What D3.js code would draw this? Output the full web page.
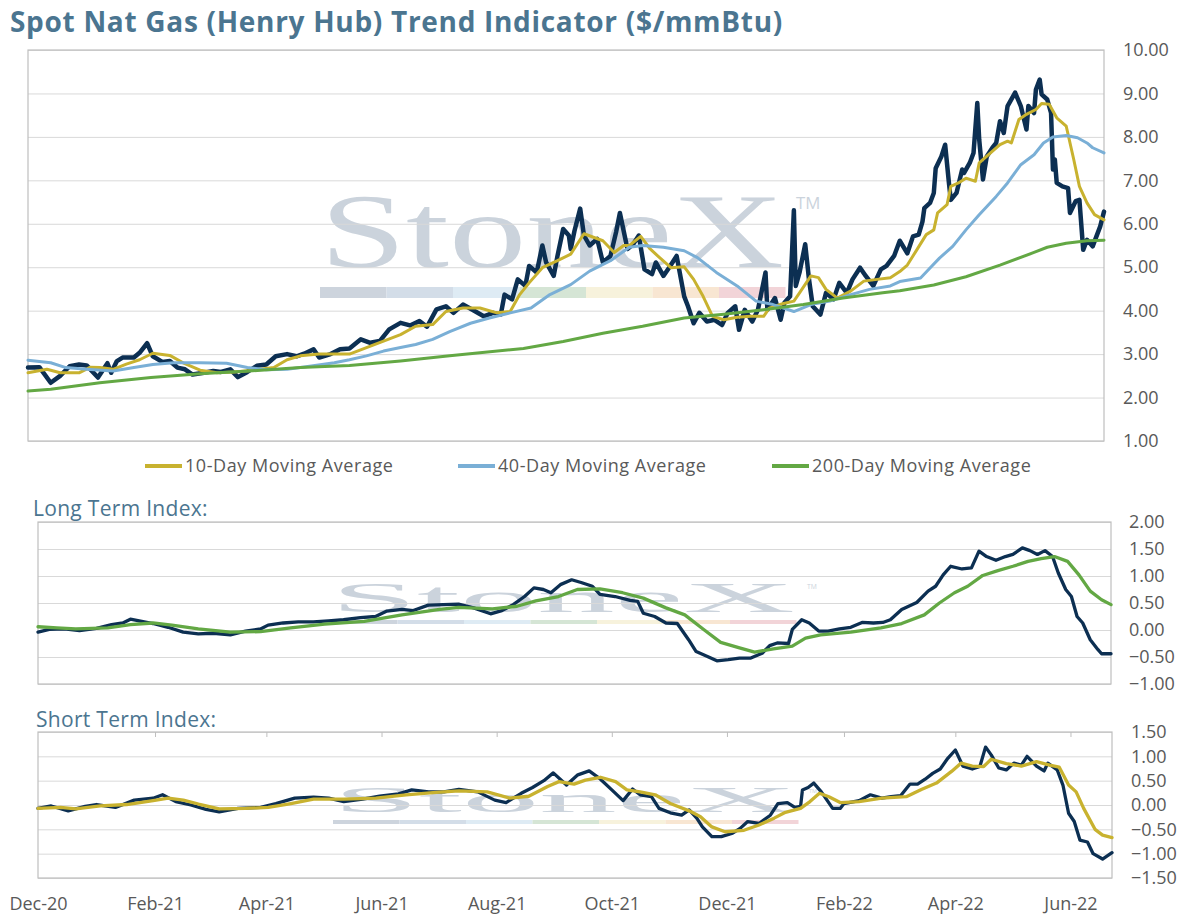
<!DOCTYPE html>
<html>
<head>
<meta charset="utf-8">
<script src="https://cdn.jsdelivr.net/npm/d3@7"></script>
<style>
  body { margin: 0; background: #fff; }
  text { font-family: "Open Sans", Lato, sans-serif; }
</style>
</head>
<body>
<svg id="chart" width="1178" height="920"></svg>
<script>
// days counted from 1 Dec 2020
const startDate = new Date(2020, 11, 1);
const endDay = 569;

const spot = [[0,2.69],[6,2.70],[12,2.34],[17,2.50],[22,2.72],[27,2.76],[31,2.74],[37,2.46],[42,2.79],[44,2.57],[47,2.84],[50,2.92],[56,2.92],[59,3.03],[63,3.25],[66,2.95],[71,2.82],[75,2.84],[79,2.69],[83,2.65],[87,2.53],[93,2.57],[98,2.61],[102,2.59],[107,2.65],[111,2.47],[116,2.59],[121,2.73],[126,2.76],[131,2.95],[137,3.00],[142,2.95],[146,3.01],[151,3.11],[154,2.92],[160,3.00],[165,3.11],[170,3.13],[176,3.34],[181,3.26],[186,3.30],[191,3.57],[197,3.72],[202,3.66],[207,3.76],[211,3.63],[216,4.03],[221,4.10],[225,3.95],[230,4.14],[235,4.02],[241,3.87],[246,3.95],[250,3.91],[252,4.37],[256,4.26],[259,4.72],[263,4.57],[265,5.03],[269,4.88],[272,5.50],[274,5.11],[278,4.80],[280,5.26],[283,5.88],[286,5.73],[287,5.42],[289,5.84],[292,6.35],[294,5.73],[297,5.50],[301,5.65],[304,5.11],[308,5.26],[311,5.81],[313,6.25],[317,5.42],[320,5.53],[323,5.73],[326,4.95],[330,4.84],[332,5.11],[336,4.80],[339,4.99],[343,5.26],[347,4.33],[349,4.10],[352,3.71],[355,3.95],[359,3.75],[363,3.79],[367,3.67],[370,3.95],[374,4.10],[376,3.56],[379,4.02],[383,3.75],[386,4.02],[390,4.88],[391,4.02],[395,4.29],[398,3.79],[400,4.18],[403,4.33],[405,6.31],[406,4.57],[408,4.88],[411,5.53],[413,4.72],[415,4.10],[419,3.91],[422,4.41],[426,4.26],[429,4.64],[433,4.41],[436,4.72],[440,4.99],[443,4.80],[447,4.57],[451,4.95],[454,5.03],[458,5.26],[461,5.61],[465,5.32],[468,5.71],[471,5.75],[473,6.05],[474,6.36],[477,6.48],[479,6.71],[480,7.28],[483,7.55],[485,7.82],[487,6.94],[488,6.55],[491,6.71],[494,7.25],[495,7.17],[498,7.40],[500,7.63],[502,8.78],[503,7.94],[505,7.02],[507,7.55],[510,7.75],[512,7.86],[514,8.36],[516,8.09],[518,8.71],[522,9.02],[525,8.71],[528,8.17],[529,8.71],[532,8.55],[533,9.09],[535,9.32],[536,8.98],[539,8.86],[541,8.55],[542,7.25],[543,7.48],[544,6.94],[547,6.86],[550,6.82],[551,6.25],[554,6.52],[556,6.55],[558,5.40],[560,5.63],[563,5.48],[567,5.94],[569,6.28]];

const ma10 = [[0,2.57],[10,2.65],[17,2.57],[27,2.57],[33,2.70],[38,2.69],[45,2.65],[52,2.77],[59,2.87],[66,3.02],[75,2.97],[82,2.80],[91,2.63],[100,2.57],[109,2.59],[119,2.63],[130,2.69],[137,2.87],[144,2.96],[154,3.00],[170,3.00],[179,3.15],[188,3.30],[197,3.45],[205,3.64],[214,3.68],[221,3.98],[230,4.06],[239,4.06],[248,3.95],[255,3.98],[260,4.37],[265,4.64],[272,4.99],[280,5.15],[287,5.30],[294,5.77],[299,5.69],[304,5.61],[310,5.34],[315,5.50],[318,5.50],[324,5.71],[329,5.42],[334,5.22],[340,4.99],[347,5.01],[352,4.72],[357,4.33],[362,3.87],[368,3.79],[375,3.85],[382,3.87],[389,3.87],[392,4.06],[399,4.16],[405,4.22],[408,4.41],[414,4.80],[418,4.76],[422,4.49],[428,4.29],[435,4.45],[442,4.68],[449,4.72],[456,4.76],[461,4.90],[465,5.05],[470,5.40],[475,5.75],[479,5.86],[481,6.25],[486,6.44],[488,6.86],[492,6.94],[496,7.05],[501,6.98],[503,7.40],[509,7.63],[514,7.82],[518,7.90],[520,7.86],[524,8.40],[528,8.52],[533,8.63],[536,8.77],[540,8.75],[544,8.44],[549,8.25],[553,7.48],[556,6.86],[560,6.48],[564,6.21],[569,6.09]];

const ma40 = [[0,2.86],[12,2.80],[20,2.69],[31,2.65],[45,2.61],[56,2.69],[66,2.76],[77,2.80],[91,2.80],[105,2.79],[116,2.69],[126,2.64],[137,2.65],[147,2.71],[162,2.80],[170,2.87],[179,2.96],[188,3.07],[197,3.15],[205,3.22],[214,3.34],[223,3.52],[234,3.71],[244,3.83],[255,3.95],[266,4.06],[276,4.37],[287,4.60],[297,4.91],[308,5.15],[318,5.46],[325,5.50],[336,5.46],[347,5.38],[354,5.22],[364,4.88],[375,4.57],[385,4.22],[394,4.14],[405,3.98],[414,4.14],[424,4.22],[435,4.37],[445,4.49],[456,4.57],[461,4.67],[472,4.75],[477,4.98],[482,5.21],[489,5.48],[496,5.86],[503,6.21],[512,6.63],[518,6.94],[525,7.36],[532,7.59],[537,7.86],[542,8.00],[549,8.03],[555,7.98],[560,7.86],[563,7.75],[569,7.63]];

const ma200 = [[0,2.15],[12,2.19],[38,2.34],[65,2.46],[91,2.55],[117,2.61],[144,2.69],[170,2.74],[197,2.84],[223,2.96],[262,3.13],[283,3.29],[304,3.48],[325,3.64],[347,3.83],[368,3.92],[389,4.02],[410,4.14],[431,4.29],[452,4.41],[461,4.46],[479,4.59],[496,4.78],[514,5.05],[532,5.34],[539,5.46],[549,5.55],[560,5.61],[569,5.62]];

const longIdx = [[0,-0.04],[6,0.01],[14,0.02],[22,-0.01],[31,0.03],[39,0.10],[45,0.13],[49,0.20],[55,0.16],[61,0.12],[69,0.05],[77,-0.04],[85,-0.07],[93,-0.06],[102,-0.09],[110,-0.02],[118,0.02],[122,0.09],[130,0.13],[138,0.15],[146,0.15],[154,0.17],[162,0.19],[171,0.23],[179,0.25],[185,0.35],[193,0.38],[199,0.36],[207,0.46],[215,0.47],[223,0.48],[231,0.41],[240,0.30],[246,0.36],[252,0.47],[258,0.62],[263,0.78],[268,0.75],[272,0.69],[277,0.84],[283,0.93],[288,0.88],[294,0.81],[298,0.66],[306,0.62],[314,0.55],[318,0.53],[321,0.31],[327,0.25],[333,0.13],[339,0.12],[345,-0.18],[349,-0.40],[355,-0.49],[360,-0.57],[366,-0.55],[372,-0.52],[378,-0.52],[384,-0.43],[388,-0.29],[392,-0.24],[398,-0.25],[400,0.01],[405,0.19],[409,0.13],[414,-0.02],[419,-0.02],[425,0.02],[431,0.05],[437,0.14],[443,0.13],[448,0.14],[452,0.19],[458,0.38],[466,0.51],[472,0.72],[476,0.81],[480,1.02],[484,1.18],[490,1.13],[495,1.15],[499,1.46],[503,1.36],[508,1.29],[513,1.36],[517,1.40],[522,1.52],[526,1.47],[530,1.40],[534,1.47],[538,1.36],[541,1.06],[545,0.75],[548,0.62],[551,0.25],[554,0.13],[558,-0.18],[562,-0.36],[564,-0.44],[569,-0.44]];

const longAvg = [[0,0.06],[10,0.04],[20,0.02],[37,0.04],[49,0.10],[61,0.13],[71,0.09],[85,0.02],[102,-0.04],[118,-0.03],[134,0.04],[152,0.11],[173,0.16],[193,0.28],[213,0.38],[223,0.42],[241,0.39],[254,0.44],[264,0.54],[276,0.62],[286,0.75],[298,0.76],[310,0.69],[321,0.59],[333,0.41],[343,0.28],[353,0.01],[362,-0.23],[372,-0.33],[380,-0.41],[390,-0.35],[400,-0.30],[407,-0.15],[415,-0.09],[431,-0.04],[447,0.04],[458,0.12],[470,0.28],[478,0.50],[486,0.69],[493,0.81],[501,1.01],[509,1.10],[517,1.18],[525,1.27],[532,1.32],[539,1.36],[546,1.27],[552,1.02],[558,0.72],[564,0.56],[569,0.47]];

const shortIdx = [[0,-0.07],[7,-0.02],[16,-0.12],[25,-0.03],[31,0.01],[41,-0.05],[51,0.10],[61,0.14],[66,0.21],[73,0.07],[81,0.00],[89,-0.09],[96,-0.14],[106,-0.07],[118,-0.05],[126,0.03],[136,0.14],[146,0.16],[154,0.14],[162,0.07],[172,0.12],[181,0.18],[191,0.23],[198,0.31],[207,0.27],[215,0.27],[223,0.32],[233,0.27],[242,0.10],[248,0.05],[256,0.24],[262,0.36],[268,0.50],[273,0.66],[280,0.41],[286,0.62],[292,0.70],[298,0.53],[304,0.31],[310,0.09],[315,0.33],[319,0.21],[325,0.17],[329,-0.07],[335,-0.16],[341,-0.21],[345,-0.10],[349,-0.27],[352,-0.45],[357,-0.65],[362,-0.65],[368,-0.58],[372,-0.48],[376,-0.34],[382,-0.38],[388,-0.21],[392,0.03],[397,0.05],[401,-0.05],[404,-0.03],[405,0.31],[408,0.36],[411,0.45],[415,0.27],[421,-0.07],[425,-0.07],[427,0.03],[435,0.09],[441,0.21],[447,0.14],[452,0.17],[457,0.19],[462,0.43],[466,0.43],[470,0.53],[474,0.65],[478,0.74],[482,0.96],[486,1.13],[490,0.80],[495,0.74],[499,0.79],[502,1.19],[505,1.03],[509,0.76],[513,0.72],[517,0.86],[521,0.82],[524,1.00],[529,0.80],[533,0.70],[535,0.86],[540,0.72],[543,0.41],[546,-0.17],[549,-0.34],[552,-0.72],[556,-0.76],[559,-1.00],[564,-1.11],[569,-0.98]];

const shortAvg = [[0,-0.07],[12,-0.05],[20,-0.08],[33,-0.02],[47,0.01],[61,0.09],[69,0.14],[77,0.10],[85,0.02],[96,-0.08],[110,-0.07],[122,-0.05],[134,0.03],[146,0.12],[162,0.12],[179,0.14],[195,0.21],[211,0.26],[223,0.29],[238,0.27],[250,0.14],[260,0.18],[270,0.38],[276,0.48],[284,0.43],[290,0.51],[298,0.57],[306,0.48],[312,0.31],[319,0.27],[327,0.21],[335,0.03],[345,-0.12],[351,-0.24],[357,-0.45],[364,-0.55],[374,-0.52],[382,-0.41],[390,-0.27],[396,-0.15],[404,-0.07],[409,0.07],[414,0.24],[419,0.17],[425,0.05],[435,0.07],[447,0.14],[460,0.17],[468,0.32],[476,0.45],[484,0.69],[489,0.86],[495,0.80],[501,0.79],[505,0.94],[513,0.85],[521,0.80],[529,0.89],[536,0.82],[541,0.78],[546,0.41],[550,0.27],[554,-0.07],[560,-0.50],[564,-0.62],[569,-0.67]];

const priceTicks = [1, 2, 3, 4, 5, 6, 7, 8, 9, 10];
const longTicks = [-1, -0.5, 0, 0.5, 1, 1.5, 2];
const shortTicks = [-1.5, -1, -0.5, 0, 0.5, 1, 1.5];
const legendNames = ["10-Day Moving Average", "40-Day Moving Average", "200-Day Moving Average"];

const NAVY = "#0c2f52", GOLD = "#c8b22f", LBLUE = "#7aafd6", GREEN = "#63a844";
const TITLE_C = "#4b7590", LABEL_C = "#595959";

const svg = d3.select("#chart");
const toDate = d => d3.timeDay.offset(startDate, d);
// a tick every two months, starting from Dec-20
const monthTicks = d3.timeMonth.range(startDate, toDate(endDay), 2);

svg.append("text")
    .attr("x", 10).attr("y", 32)
    .attr("font-size", 28).attr("font-weight", 700)
    .attr("letter-spacing", 0.7)
    .attr("fill", TITLE_C)
    .text("Spot Nat Gas (Henry Hub) Trend Indicator ($/mmBtu)");

function panel(box, domain, ticks, markTicks) {
    const x = d3.scaleTime().domain([startDate, toDate(endDay)]).range([box.x0, box.x1]);
    const y = d3.scaleLinear().domain(domain).range([box.y1, box.y0]);
    const g = svg.append("g");

    // watermark
    const wm = g.append("g");
    const wx = box.wmx;
    const segCols = ["#cdd4dd", "#d3dde8", "#deebf4", "#d5e5d5", "#f7f2dc", "#f8e6d2", "#f2d4d8"];
    wm.append("text")
        .attr("x", wx).attr("y", box.wmBase)
        .attr("font-size", box.wmSize)
        .attr("fill", "#cbd3dc")
        .attr("textLength", 464)
        .attr("lengthAdjust", "spacingAndGlyphs")
        .style("font-family", "'Liberation Serif', 'DejaVu Serif', serif")
        .text("StoneX");
    wm.append("text")
        .attr("x", wx + 476).attr("y", box.wmBase - box.wmSize * 0.55)
        .attr("font-size", box.wmSize * 0.16)
        .attr("fill", "#cbd3dc")
        .text("TM");
    segCols.forEach((c, i) => {
        wm.append("rect")
            .attr("x", wx + i * 66.5).attr("y", box.wmBar)
            .attr("width", 66.5).attr("height", box.wmBarH)
            .attr("fill", c);
    });

    // gridlines
    g.append("g")
        .attr("transform", `translate(${box.x0},0)`)
        .call(d3.axisLeft(y).tickValues(ticks).tickSize(-(box.x1 - box.x0)).tickFormat(""))
        .call(a => a.select(".domain").remove())
        .call(a => a.selectAll("line").attr("stroke", "#d9d9d9").attr("stroke-width", 1));

    g.append("rect")
        .attr("x", box.x0).attr("y", box.y0)
        .attr("width", box.x1 - box.x0).attr("height", box.y1 - box.y0)
        .attr("fill", "none").attr("stroke", "#bfbfbf").attr("stroke-width", 1.2);

    // right axis labels
    g.append("g")
        .attr("transform", `translate(${box.x1 + box.lab},0)`)
        .call(d3.axisRight(y).tickValues(ticks).tickSize(0).tickPadding(0).tickFormat(d3.format(".2f")))
        .call(a => a.select(".domain").remove())
        .call(a => a.selectAll("text").attr("fill", LABEL_C).attr("font-size", 18)
            .attr("font-family", "'Open Sans', sans-serif"));

    if (markTicks) {
        g.append("g")
            .attr("transform", `translate(0,${box.y0})`)
            .call(d3.axisTop(x).tickValues(monthTicks.slice(1)).tickSize(-5).tickFormat(""))
            .call(a => a.select(".domain").remove())
            .call(a => a.selectAll("line").attr("stroke", "#bfbfbf"));
    }
    return { g, x, y };
}

function drawLine(p, data, color, width) {
    const line = d3.line()
        .x(d => p.x(toDate(d[0])))
        .y(d => p.y(d[1]));
    p.g.append("path")
        .datum(data)
        .attr("fill", "none")
        .attr("stroke", color)
        .attr("stroke-width", width)
        .attr("stroke-linejoin", "round")
        .attr("stroke-linecap", "round")
        .attr("d", line);
}

// top price panel
const pricePanel = panel({ x0: 28, x1: 1104, y0: 50, y1: 441, lab: 19,
    wmx: 320, wmBase: 267, wmSize: 105, wmBar: 287, wmBarH: 11 }, [1, 10], priceTicks, false);
drawLine(pricePanel, spot, NAVY, 4.5);
drawLine(pricePanel, ma10, GOLD, 3);
drawLine(pricePanel, ma40, LBLUE, 3);
drawLine(pricePanel, ma200, GREEN, 3);

// legend
const legX = [145, 458, 772];
const legC = [GOLD, LBLUE, GREEN];
legendNames.forEach((n, i) => {
    svg.append("line")
        .attr("x1", legX[i]).attr("x2", legX[i] + 37)
        .attr("y1", 466).attr("y2", 466)
        .attr("stroke", legC[i]).attr("stroke-width", 4);
    svg.append("text")
        .attr("x", legX[i] + 40).attr("y", 472)
        .attr("font-size", 18).attr("letter-spacing", 0.55).attr("fill", LABEL_C)
        .text(n);
});

// long term panel
svg.append("text").attr("x", 33).attr("y", 516)
    .attr("font-size", 21).attr("letter-spacing", 0.3).attr("fill", TITLE_C).text("Long Term Index:");
const longPanel = panel({ x0: 38, x1: 1111, y0: 522, y1: 684, lab: 18,
    wmx: 331, wmBase: 612, wmSize: 42, wmBar: 620, wmBarH: 4 }, [-1, 2], longTicks, false);
drawLine(longPanel, longIdx, NAVY, 3.3);
drawLine(longPanel, longAvg, GREEN, 3.3);

// short term panel
svg.append("text").attr("x", 36).attr("y", 727)
    .attr("font-size", 21).attr("letter-spacing", 0.3).attr("fill", TITLE_C).text("Short Term Index:");
const shortPanel = panel({ x0: 38, x1: 1112, y0: 732, y1: 878, lab: 19,
    wmx: 333, wmBase: 812, wmSize: 35, wmBar: 820, wmBarH: 4 }, [-1.5, 1.5], shortTicks, true);
drawLine(shortPanel, shortIdx, NAVY, 3.3);
drawLine(shortPanel, shortAvg, GOLD, 3.3);

// date labels
svg.append("g")
    .attr("transform", "translate(0,894)")
    .call(d3.axisBottom(shortPanel.x).tickValues(monthTicks).tickSize(0).tickPadding(0)
        .tickFormat(d3.timeFormat("%b-%y")))
    .call(a => a.select(".domain").remove())
    .call(a => a.selectAll("text").attr("fill", LABEL_C).attr("font-size", 18)
        .attr("font-family", "'Open Sans', sans-serif").attr("dy", "0.9em"));
</script>
</body>
</html>
